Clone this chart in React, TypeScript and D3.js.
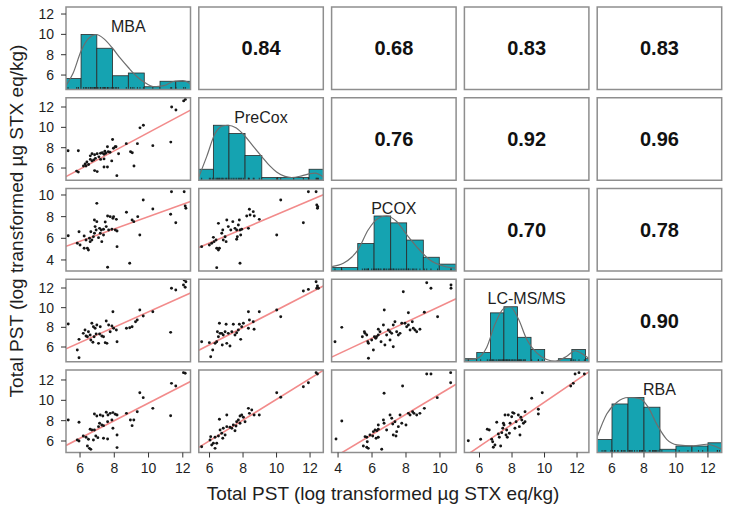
import React from 'react';
import * as d3 from 'd3';

// ---------- data ----------
const variables = ['MBA', 'PreCox', 'PCOX', 'LC-MS/MS', 'RBA'];
const axisTitle = 'Total PST (log transformed µg STX eq/kg)';

const colDomains = [[5.18, 12.45], [5.36, 12.79], [3.62, 10.95], [5.07, 12.73], [5.075, 12.86]];
const rowDomains = [[4.58, 12.69], [4.8, 12.91], [2.98, 10.6], [4.5, 12.89], [4.87, 12.98]];
const colTicks = [[6, 8, 10, 12], [6, 8, 10, 12], [4, 6, 8, 10], [6, 8, 10, 12], [6, 8, 10, 12]];
const rowTicks = [[6, 8, 10, 12], [6, 8, 10, 12], [4, 6, 8, 10], [6, 8, 10, 12], [6, 8, 10, 12]];

const correlations = [
  { row: 0, col: 1, value: '0.84' }, { row: 0, col: 2, value: '0.68' },
  { row: 0, col: 3, value: '0.83' }, { row: 0, col: 4, value: '0.83' },
  { row: 1, col: 2, value: '0.76' }, { row: 1, col: 3, value: '0.92' },
  { row: 1, col: 4, value: '0.96' }, { row: 2, col: 3, value: '0.70' },
  { row: 2, col: 4, value: '0.78' }, { row: 3, col: 4, value: '0.90' },
];

const mbaBreaks = [5.14, 6.06, 6.98, 7.9, 8.82, 9.75, 10.67, 11.59, 12.51];
const mbaCounts = [4, 20, 15, 5, 6, 1, 3, 3];
const preCoxBreaks = [5.27, 6.23, 7.16, 8.12, 9.12, 10.07, 11.03, 11.94, 12.9];
const preCoxCounts = [4, 20, 17, 9, 1, 1, 1, 4];
const pcoxBreaks = [3.24, 4.2, 5.16, 6.12, 7.1, 8.04, 9.02, 9.96, 10.94];
const pcoxCounts = [1, 1, 8, 16, 14, 9, 4, 2];
const lcBreaks = [5.0, 5.83, 6.67, 7.5, 8.34, 9.17, 10.01, 10.85, 11.68, 12.52, 13.35];
const lcCounts = [1, 3, 16, 18, 8, 4, 0, 1, 4, 1];
const rbaBreaks = [5, 6, 7, 8, 9, 10, 11, 12, 13];
const rbaCounts = [4, 15, 17, 14, 1, 2, 2, 3];

const mbaDensity = [[5.16, 0.06], [5.6, 0.3], [6.06, 0.7], [6.5, 0.93], [6.95, 1.0], [7.4, 0.92], [7.9, 0.75], [8.35, 0.57], [8.82, 0.4], [9.3, 0.24], [9.76, 0.13], [10.3, 0.05], [10.9, 0.07], [11.5, 0.15], [12.0, 0.16], [12.45, 0.1]];
const preCoxDensity = [[5.36, 0.06], [5.83, 0.43], [6.33, 0.85], [6.8, 0.99], [7.1, 1.0], [7.6, 0.95], [8.12, 0.8], [8.6, 0.62], [9.12, 0.43], [9.6, 0.26], [10.0, 0.15], [10.5, 0.07], [10.9, 0.05], [11.5, 0.08], [12.0, 0.12], [12.3, 0.13], [12.79, 0.06]];
const pcoxDensity = [[3.62, 0.08], [4.31, 0.14], [4.8, 0.25], [5.16, 0.38], [5.78, 0.75], [6.37, 0.96], [6.86, 1.0], [7.45, 0.9], [8.04, 0.66], [8.63, 0.44], [9.41, 0.2], [10.19, 0.09], [10.95, 0.05]];
const lcDensity = [[5.07, 0.03], [5.83, 0.06], [6.44, 0.26], [6.95, 0.68], [7.46, 0.96], [7.88, 1.0], [8.39, 0.78], [8.9, 0.41], [9.52, 0.16], [10.13, 0.04], [10.65, 0.01], [11.37, 0.1], [11.88, 0.2], [12.39, 0.13], [12.73, 0.06]];
const rbaDensity = [[5.08, 0.29], [5.67, 0.7], [6.29, 0.91], [7.02, 1.0], [7.75, 0.98], [8.27, 0.82], [8.79, 0.52], [9.42, 0.24], [10.08, 0.14], [11.08, 0.12], [11.92, 0.15], [12.86, 0.06]];

const mbaPreCox = [[5.3, 7.7], [5.9, 7.7], [5.8, 5.7], [5.9, 5.6], [6.2, 6.2], [6.35, 6.2], [6.5, 6.35], [6.6, 7.2], [6.7, 7.4], [6.85, 7.3], [6.6, 6.85], [6.8, 6.8], [7.0, 5.65], [6.85, 5.75], [7.4, 6.1], [7.6, 6.1], [7.5, 7.45], [7.65, 7.6], [7.75, 7.55], [7.9, 8.8], [7.95, 7.95], [8.1, 8.1], [7.85, 6.7], [8.15, 5.25], [8.25, 7.4], [8.7, 8.4], [8.95, 7.6], [9.05, 7.5], [9.15, 6.2], [9.35, 8.4], [9.5, 9.95], [9.7, 10.2], [10.25, 8.2], [11.3, 8.55], [11.35, 12.0], [11.6, 11.7], [12.05, 12.6], [12.15, 12.75], [7.2, 7.45], [7.3, 7.5], [7.4, 7.35], [7.1, 7.1], [7.0, 7.4], [6.9, 6.95], [7.2, 6.85], [7.45, 7.65], [7.6, 8.1], [8.05, 8.1], [6.4, 6.6], [6.7, 6.7], [6.3, 6.4], [7.4, 6.9]];
const mbaPcox = [[5.31, 6.24], [5.94, 6.6], [5.84, 5.54], [6.0, 5.38], [6.24, 5.08], [6.43, 5.08], [6.49, 4.92], [6.55, 6.0], [6.69, 5.85], [6.59, 5.69], [6.63, 6.61], [6.84, 6.46], [6.94, 6.77], [6.84, 7.69], [6.98, 7.54], [6.98, 9.23], [7.14, 6.92], [7.24, 6.77], [7.37, 6.83], [7.18, 6.46], [7.37, 6.31], [7.27, 5.69], [7.53, 7.08], [7.61, 8.06], [7.76, 8.0], [7.96, 8.0], [8.12, 7.75], [7.67, 6.77], [7.86, 6.83], [8.06, 6.77], [7.92, 7.85], [8.16, 5.23], [8.16, 6.68], [8.71, 8.4], [9.04, 7.69], [9.14, 7.54], [8.9, 3.69], [7.61, 3.32], [9.37, 8.0], [9.49, 6.31], [9.69, 9.54], [10.25, 8.71], [11.29, 8.22], [11.34, 10.3], [11.59, 7.44], [12.08, 10.3], [12.14, 8.98], [12.18, 8.77], [6.78, 6.15], [7.08, 6.06], [6.88, 7.08], [7.47, 7.51], [6.35, 5.85], [6.24, 6.21]];
const mbaLc = [[5.31, 8.34], [5.84, 5.69], [5.94, 4.91], [5.94, 6.78], [6.19, 7.39], [6.35, 7.12], [6.43, 7.05], [6.49, 7.55], [6.59, 7.22], [6.63, 6.71], [6.75, 6.48], [6.78, 8.06], [6.88, 7.9], [6.98, 8.24], [6.94, 7.32], [7.18, 8.06], [7.14, 7.32], [7.27, 7.12], [7.37, 7.05], [7.08, 6.37], [7.47, 6.44], [7.57, 6.37], [7.53, 8.64], [7.67, 8.24], [7.86, 8.13], [7.92, 9.59], [7.76, 7.55], [7.96, 7.9], [8.12, 7.73], [8.16, 6.54], [8.71, 7.9], [8.9, 7.96], [9.04, 8.06], [9.24, 8.57], [9.34, 8.74], [9.49, 9.76], [9.69, 9.15], [10.25, 9.59], [11.29, 7.49], [11.34, 11.97], [11.59, 11.8], [12.04, 12.3], [12.14, 12.07], [12.18, 12.64], [12.08, 12.81], [6.69, 8.41], [6.82, 7.05], [6.29, 7.73]];
const mbaRba = [[5.31, 8.07], [5.94, 7.84], [5.84, 6.1], [5.94, 6.0], [6.19, 6.49], [6.35, 6.37], [6.49, 6.17], [6.43, 5.51], [6.55, 5.28], [6.63, 5.18], [6.59, 7.15], [6.69, 7.08], [6.84, 7.08], [6.84, 8.66], [6.98, 8.46], [6.92, 6.49], [7.04, 6.33], [6.78, 6.1], [7.14, 7.74], [7.27, 7.57], [7.37, 7.51], [7.08, 7.41], [7.18, 8.56], [7.33, 8.46], [7.37, 6.27], [7.61, 6.2], [7.53, 8.82], [7.63, 8.56], [7.76, 8.72], [7.92, 8.79], [8.06, 8.63], [8.16, 8.56], [7.61, 7.9], [7.86, 8.07], [7.92, 7.25], [8.16, 6.59], [8.16, 5.35], [8.71, 8.72], [8.94, 8.07], [9.04, 7.51], [9.14, 8.07], [9.34, 8.88], [9.49, 10.75], [9.69, 10.26], [10.25, 9.21], [11.29, 8.49], [11.34, 11.67], [11.59, 11.41], [12.04, 12.72], [12.14, 12.66]];
const preCoxPcox = [[5.53, 5.23], [5.99, 5.38], [6.13, 5.54], [6.27, 5.69], [6.39, 5.85], [6.23, 6.09], [6.43, 5.08], [6.53, 4.92], [6.59, 5.08], [6.43, 3.29], [6.53, 7.38], [6.79, 6.77], [6.73, 6.46], [6.93, 6.15], [6.82, 5.85], [6.99, 5.69], [7.03, 7.69], [7.12, 7.08], [7.27, 6.77], [7.39, 7.54], [7.52, 6.92], [7.62, 6.77], [7.66, 6.15], [7.62, 5.91], [7.72, 7.23], [7.78, 7.69], [7.82, 6.77], [7.92, 6.83], [7.86, 6.31], [7.82, 3.69], [8.22, 8.06], [8.38, 8.68], [8.42, 8.15], [8.61, 8.46], [8.67, 8.06], [8.32, 6.92], [8.97, 7.75], [10.01, 6.31], [10.25, 9.54], [11.6, 7.44], [11.9, 10.3], [12.36, 10.3], [12.4, 9.08], [12.46, 8.92], [12.44, 8.77]];
const preCoxLc = [[5.53, 6.54], [5.99, 6.44], [6.07, 5.01], [6.19, 5.69], [6.33, 6.37], [6.43, 6.54], [6.53, 7.05], [6.63, 7.39], [6.47, 7.55], [6.59, 8.41], [6.73, 7.39], [6.82, 7.22], [6.93, 7.55], [6.76, 6.2], [7.03, 6.37], [7.22, 6.1], [6.99, 8.31], [7.12, 7.39], [7.33, 7.55], [7.42, 8.31], [7.52, 7.22], [7.62, 7.45], [7.72, 7.73], [7.78, 8.31], [7.92, 8.06], [8.02, 8.41], [7.86, 6.78], [8.32, 9.59], [8.38, 8.74], [8.32, 7.9], [8.61, 8.57], [8.66, 7.8], [8.97, 9.59], [10.01, 9.76], [10.25, 9.08], [11.6, 11.69], [11.9, 11.86], [12.36, 12.64], [12.44, 12.2], [12.4, 11.97], [12.5, 11.97]];
const preCoxRba = [[5.53, 5.44], [6.03, 6.1], [6.13, 5.61], [6.33, 5.28], [6.43, 5.78], [6.23, 5.78], [6.07, 6.43], [6.33, 6.37], [6.53, 6.49], [6.63, 7.08], [6.73, 6.76], [6.79, 6.27], [6.93, 6.59], [6.82, 7.25], [6.59, 8.14], [7.03, 8.56], [7.03, 7.41], [7.22, 7.35], [7.33, 7.25], [7.42, 7.57], [7.52, 7.01], [7.58, 7.48], [7.62, 7.9], [7.72, 8.07], [7.82, 8.46], [7.92, 8.56], [7.82, 7.74], [8.02, 8.33], [8.12, 7.9], [8.32, 9.21], [8.38, 8.72], [8.52, 9.05], [8.66, 8.56], [8.97, 8.56], [10.01, 10.75], [10.25, 10.3], [11.6, 11.34], [11.9, 11.73], [12.36, 12.72], [12.44, 12.59]];
const pcoxLc = [[3.82, 6.54], [4.22, 8.0], [5.43, 7.05], [5.55, 7.55], [5.59, 7.39], [5.69, 7.22], [5.75, 6.54], [5.79, 6.37], [5.79, 4.85], [5.98, 6.71], [6.08, 5.69], [6.14, 7.05], [6.22, 6.88], [6.27, 7.05], [6.37, 7.22], [6.37, 7.8], [6.47, 7.55], [6.53, 6.54], [6.67, 8.24], [6.72, 9.76], [6.76, 6.2], [6.86, 7.22], [6.96, 7.73], [7.06, 7.55], [7.06, 6.71], [7.16, 7.39], [7.25, 8.24], [7.25, 6.03], [7.35, 8.57], [7.45, 7.55], [7.55, 7.22], [7.65, 7.39], [7.75, 8.41], [7.84, 11.62], [7.94, 8.41], [8.04, 8.06], [8.14, 8.24], [8.14, 9.49], [8.24, 7.73], [8.37, 8.57], [8.43, 7.9], [8.53, 7.73], [8.63, 7.55], [8.82, 7.8], [9.08, 9.53], [9.22, 12.54], [9.47, 11.97], [9.86, 9.08], [10.65, 12.3], [10.65, 11.97]];
const pcoxRba = [[3.88, 6.2], [4.22, 7.97], [5.49, 5.51], [5.69, 5.38], [5.72, 5.93], [5.69, 6.37], [5.59, 6.43], [5.78, 5.28], [5.88, 6.59], [6.04, 6.49], [6.08, 6.92], [6.18, 7.08], [6.28, 7.02], [6.37, 7.15], [6.24, 6.27], [6.37, 6.37], [6.37, 7.57], [6.57, 5.19], [6.67, 8.07], [6.71, 7.74], [6.86, 7.08], [7.06, 8.56], [7.16, 8.23], [7.22, 7.67], [7.25, 6.59], [7.35, 7.9], [7.45, 6.92], [7.41, 6.49], [7.55, 7.41], [7.65, 8.56], [7.75, 7.74], [6.71, 10.69], [7.8, 11.41], [8.0, 7.57], [8.14, 8.72], [8.24, 8.56], [8.39, 8.88], [8.47, 8.72], [8.63, 8.56], [8.82, 8.72], [9.08, 9.21], [9.22, 12.59], [9.47, 12.59], [9.84, 10.26], [10.63, 12.72], [10.63, 11.73]];
const lcRba = [[5.31, 6.03], [6.07, 6.17], [6.48, 7.15], [6.6, 7.08], [6.75, 6.17], [6.81, 5.93], [6.85, 5.38], [6.95, 5.61], [7.06, 7.84], [7.16, 6.69], [7.22, 6.37], [7.3, 5.51], [7.37, 6.82], [7.43, 7.25], [7.47, 7.74], [7.51, 7.57], [7.57, 8.56], [7.63, 6.59], [7.67, 7.08], [7.71, 6.37], [7.77, 8.56], [7.84, 6.76], [7.88, 7.74], [7.98, 8.39], [8.04, 8.79], [8.12, 8.72], [8.18, 7.25], [8.25, 7.9], [8.39, 8.56], [8.45, 7.41], [8.49, 6.59], [8.54, 8.33], [8.6, 8.07], [8.7, 7.74], [8.8, 8.88], [8.8, 7.9], [9.21, 10.2], [9.62, 9.12], [9.62, 8.66], [9.86, 10.75], [11.61, 11.41], [11.77, 11.67], [11.88, 12.59], [12.12, 12.72], [12.45, 12.59]];

// fitted lines: [intercept, slope]
const fitMbaPreCox = [0.49, 0.9];
const fitMbaPcox = [2.32, 0.568];
const fitMbaLc = [1.77, 0.78];
const fitMbaRba = [1.08, 0.865];
const fitPreCoxPcox = [1.62, 0.657];
const fitPreCoxLc = [0.95, 0.88];
const fitPreCoxRba = [-0.1, 1.02];
const fitPcoxLc = [2.04, 0.81];
const fitPcoxRba = [0.63, 1.0];
const fitLcRba = [-1.05, 1.087];

// ---------- assembly ----------
const diagonals = [
  { breaks: mbaBreaks, counts: mbaCounts, density: mbaDensity, rug: mbaPreCox.map((d) => d[0]) },
  { breaks: preCoxBreaks, counts: preCoxCounts, density: preCoxDensity, rug: preCoxLc.map((d) => d[0]) },
  { breaks: pcoxBreaks, counts: pcoxCounts, density: pcoxDensity, rug: pcoxLc.map((d) => d[0]) },
  { breaks: lcBreaks, counts: lcCounts, density: lcDensity, rug: lcRba.map((d) => d[0]) },
  { breaks: rbaBreaks, counts: rbaCounts, density: rbaDensity, rug: lcRba.map((d) => d[1]) },
];

const lowerPanels = [
  { row: 1, col: 0, points: mbaPreCox, fit: fitMbaPreCox },
  { row: 2, col: 0, points: mbaPcox, fit: fitMbaPcox },
  { row: 3, col: 0, points: mbaLc, fit: fitMbaLc },
  { row: 4, col: 0, points: mbaRba, fit: fitMbaRba },
  { row: 2, col: 1, points: preCoxPcox, fit: fitPreCoxPcox },
  { row: 3, col: 1, points: preCoxLc, fit: fitPreCoxLc },
  { row: 4, col: 1, points: preCoxRba, fit: fitPreCoxRba },
  { row: 3, col: 2, points: pcoxLc, fit: fitPcoxLc },
  { row: 4, col: 2, points: pcoxRba, fit: fitPcoxRba },
  { row: 4, col: 3, points: lcRba, fit: fitLcRba },
];

// layout
const W = 730;
const H = 510;
const left0 = 66;
const pitchX = 132.8;
const panelW = 124.5;
const top0 = 7;
const pitchY = 90.75;
const panelH = 82.5;
const FONT = "'Liberation Sans', Arial, Helvetica, sans-serif";
const TEXT = '#1e1e1e';
const HIST_FILL = '#15a3b1';
const BORDER = '#8e8e8e';

const px = (c: number) => left0 + c * pitchX;
const py = (r: number) => top0 + r * pitchY;

const xScales = colDomains.map((d, c) => d3.scaleLinear().domain(d).range([px(c), px(c) + panelW]));
const yScales = rowDomains.map((d, r) => d3.scaleLinear().domain(d).range([py(r) + panelH, py(r)]));
const histY = (r: number) => d3.scaleLinear().domain([0, 1.5]).range([py(r) + panelH, py(r)]);

export default function App() {
  const n = variables.length;
  return (
    <svg width={W} height={H} style={{ position: 'absolute', left: 0, top: 0, background: '#fff' }} fontFamily={FONT}>
      <rect x={0} y={0} width={W} height={H} fill="#fff" />
      <defs>
        {d3.range(n).map((r) =>
          d3.range(n).map((c) => (
            <clipPath id={`clip-${r}-${c}`} key={`cp-${r}-${c}`}>
              <rect x={px(c)} y={py(r)} width={panelW} height={panelH} />
            </clipPath>
          ))
        )}
      </defs>

      {/* diagonal histograms */}
      {diagonals.map((dg, i) => {
        const xs = xScales[i];
        const ys = histY(i);
        const maxC = d3.max(dg.counts) as number;
        const line = d3
          .line<number[]>()
          .x((d) => xs(d[0]))
          .y((d) => ys(d[1]))
          .curve(d3.curveMonotoneX);
        return (
          <g key={`diag-${i}`}>
            <g clipPath={`url(#clip-${i}-${i})`}>
              {dg.counts.map((cnt, k) =>
                cnt > 0 ? (
                  <rect
                    key={k}
                    x={xs(dg.breaks[k])}
                    y={ys(cnt / maxC)}
                    width={xs(dg.breaks[k + 1]) - xs(dg.breaks[k])}
                    height={ys(0) - ys(cnt / maxC)}
                    fill={HIST_FILL}
                    stroke="#2a2a2a"
                    strokeWidth={0.8}
                  />
                ) : null
              )}
              <path d={line(dg.density) || ''} fill="none" stroke="#6e6e6e" strokeWidth={1.2} />
              {dg.rug.map((v, k) => (
                <line key={`rug-${k}`} x1={xs(v)} x2={xs(v)} y1={ys(0)} y2={ys(0) - 2.5} stroke="#222" strokeWidth={0.8} />
              ))}
            </g>
            <text x={px(i) + panelW / 2} y={py(i) + 25} textAnchor="middle" fontSize={16} fill={TEXT}>
              {variables[i]}
            </text>
          </g>
        );
      })}

      {/* lower scatter panels */}
      {lowerPanels.map((p) => {
        const xs = xScales[p.col];
        const ys = yScales[p.row];
        const [a, b] = p.fit;
        const [x0, x1] = xs.domain();
        return (
          <g key={`low-${p.row}-${p.col}`} clipPath={`url(#clip-${p.row}-${p.col})`}>
            <line x1={xs(x0)} y1={ys(a + b * x0)} x2={xs(x1)} y2={ys(a + b * x1)} stroke="#f28b8b" strokeWidth={1.6} />
            {p.points.map((d, k) => (
              <circle key={k} cx={xs(d[0])} cy={ys(d[1])} r={1.45} fill="#151515" />
            ))}
          </g>
        );
      })}

      {/* upper correlation panels */}
      {correlations.map((cr) => (
        <text
          key={`cor-${cr.row}-${cr.col}`}
          x={px(cr.col) + panelW / 2}
          y={py(cr.row) + panelH / 2}
          dy="0.36em"
          textAnchor="middle"
          fontSize={20}
          fontWeight="bold"
          fill="#111"
        >
          {cr.value}
        </text>
      ))}

      {/* panel borders */}
      {d3.range(n).map((r) =>
        d3.range(n).map((c) => (
          <rect key={`b-${r}-${c}`} x={px(c)} y={py(r)} width={panelW} height={panelH} fill="none" stroke={BORDER} strokeWidth={1.5} />
        ))
      )}

      {/* left axes */}
      {rowTicks.map((ticks, r) => (
        <g key={`ya-${r}`}>
          {ticks.map((t) => (
            <g key={t}>
              <line x1={px(0) - 5} x2={px(0)} y1={yScales[r](t)} y2={yScales[r](t)} stroke="#333" strokeWidth={1} />
              <text x={px(0) - 12} y={yScales[r](t)} dy="0.36em" textAnchor="end" fontSize={14} fill={TEXT}>
                {t}
              </text>
            </g>
          ))}
        </g>
      ))}

      {/* bottom axes */}
      {colTicks.map((ticks, c) => (
        <g key={`xa-${c}`}>
          {ticks.map((t) => (
            <g key={t}>
              <line x1={xScales[c](t)} x2={xScales[c](t)} y1={py(n - 1) + panelH} y2={py(n - 1) + panelH + 5} stroke="#333" strokeWidth={1} />
              <text x={xScales[c](t)} y={py(n - 1) + panelH + 20} textAnchor="middle" fontSize={14} fill={TEXT}>
                {t}
              </text>
            </g>
          ))}
        </g>
      ))}

      {/* axis titles */}
      <text x={383} y={500} textAnchor="middle" fontSize={19} fill={TEXT}>
        {axisTitle}
      </text>
      <text transform="translate(23,221) rotate(-90)" textAnchor="middle" fontSize={19} fill={TEXT}>
        {axisTitle}
      </text>
    </svg>
  );
}
